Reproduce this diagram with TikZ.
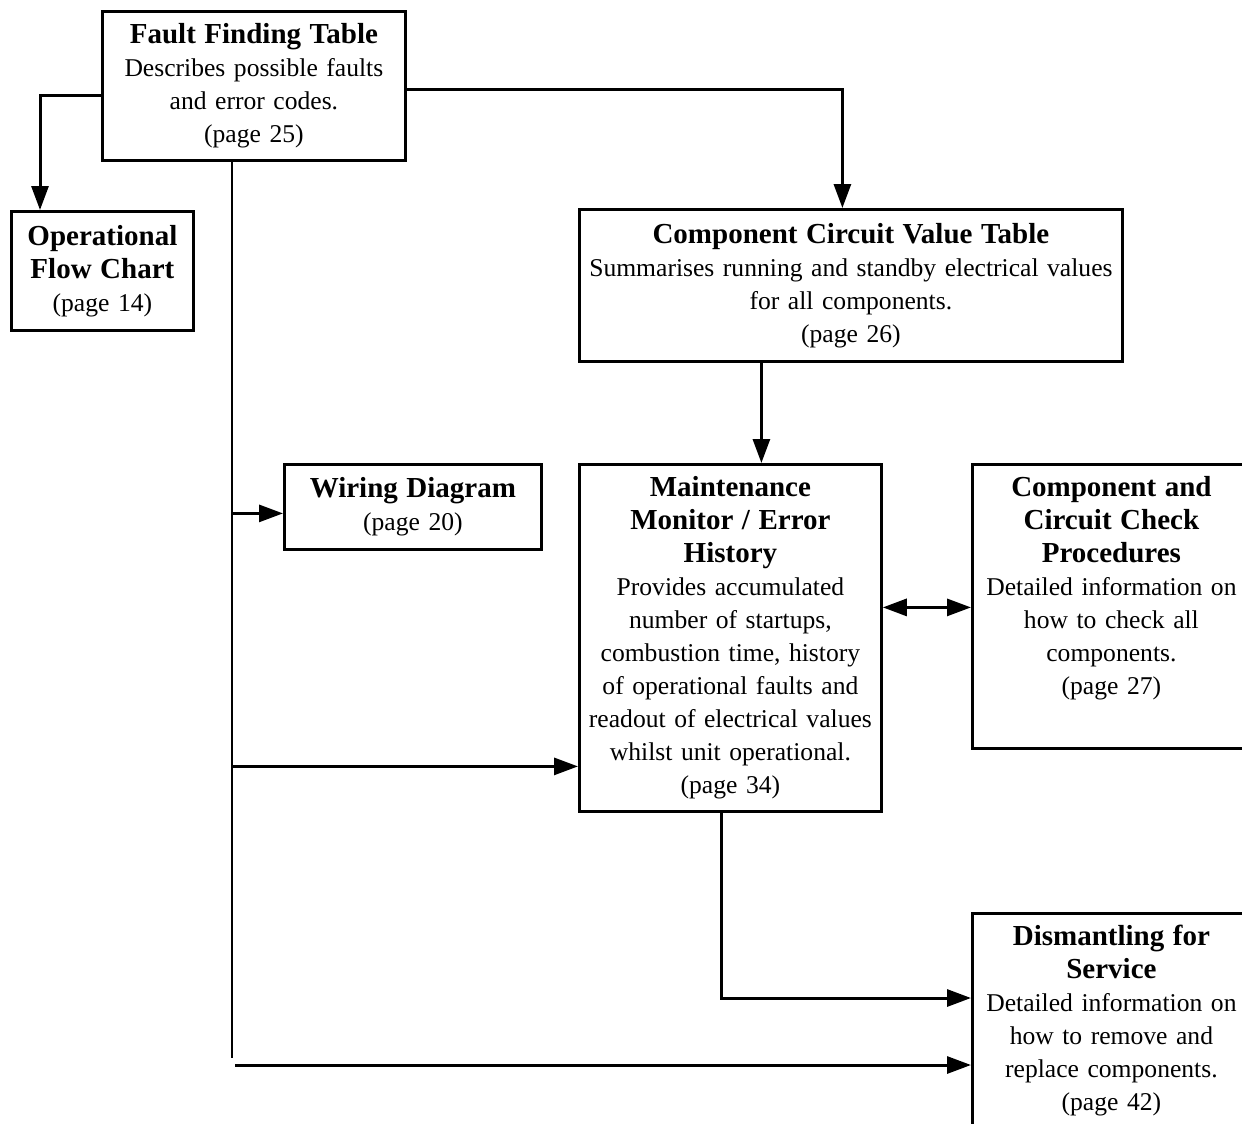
\documentclass[tikz,border=0pt]{standalone}
\usepackage{fontspec}
\setmainfont{Liberation Serif}
\usetikzlibrary{arrows.meta}
\newcommand{\boxhead}[1]{{\fontsize{14.5pt}{16.5pt}\selectfont\bfseries #1}}
\tikzset{
    box/.style={draw, line width=1.4pt, anchor=north west, align=center,
        inner xsep=0pt, inner ysep=6pt, font=\fontsize{12.8pt}{16.5pt}\selectfont},
    link/.style={line width=1.5pt, -{Triangle[length=12pt,width=8.5pt]}},
    trunk/.style={line width=1pt}
}
\begin{document}
\begin{tikzpicture}[x=0.5pt,y=-0.5pt]
    \useasboundingbox (0,0) rectangle (1242,1124);
    \clip (0,0) rectangle (1242,1124);

    \node[box, text width=151.5pt, minimum height=74.5pt] (fft) at (101,10)
        {\boxhead{Fault Finding Table}\\Describes possible faults\\and error codes.\\(page 25)};
    \node[box, text width=91pt, minimum height=59.5pt] (ofc) at (10,210)
        {\boxhead{Operational}\\\boxhead{Flow Chart}\\(page 14)};
    \node[box, text width=271.5pt, minimum height=76pt] (ccvt) at (578,208)
        {\boxhead{Component Circuit Value Table}\\Summarises running and standby electrical values\\for all components.\\(page 26)};
    \node[box, text width=128.5pt, minimum height=42.5pt] (wd) at (283,463)
        {\boxhead{Wiring Diagram}\\(page 20)};
    \node[box, text width=151pt, minimum height=173.5pt] (mm) at (578,463)
        {\boxhead{Maintenance}\\\boxhead{Monitor / Error}\\\boxhead{History}\\Provides accumulated\\number of startups,\\combustion time, history\\of operational faults and\\readout of electrical values\\whilst unit operational.\\(page 34)};
    \node[box, text width=139pt, text depth=120pt] (cccp) at (971,463)
        {\boxhead{Component and}\\\boxhead{Circuit Check}\\\boxhead{Procedures}\\Detailed information on\\how to check all\\components.\\(page 27)};
    \node[box, text width=139pt, text depth=112.5pt] (dfs) at (971,912)
        {\boxhead{Dismantling for}\\\boxhead{Service}\\Detailed information on\\how to remove and\\replace components.\\(page 42)};

    \coordinate (trunkend) at (232,1058);
    \coordinate (trunkfoot) at (235,1065);

    \draw[link] ([yshift=-4.75pt]fft.west) -| ([xshift=15pt]ofc.north west);
    \draw[link] ([yshift=-1.75pt]fft.east) -| ([xshift=-4.25pt]ccvt.north);
    \draw[trunk] (fft.south -| trunkend) -- (trunkend);
    \draw[link] ([yshift=-3.25pt]wd.west -| trunkend) -- ([yshift=-3.25pt]wd.west);
    \draw[link] ([yshift=-64.25pt]mm.west -| trunkend) -- ([yshift=-64.25pt]mm.west);
    \draw[link] (trunkfoot) -- (trunkfoot -| dfs.west);
    \draw[link] ([xshift=15.5pt]mm.north |- ccvt.south) -- ([xshift=15.5pt]mm.north);
    \draw[link] ([xshift=-4.5pt]mm.south) |- ([yshift=-43pt]dfs.north west);
    \draw[link, {Triangle[length=12pt,width=8.5pt]}-{Triangle[length=12pt,width=8.5pt]}]
        ([yshift=15.25pt]mm.east) -- ([yshift=15.25pt]mm.east -| cccp.west);
\end{tikzpicture}
\end{document}
